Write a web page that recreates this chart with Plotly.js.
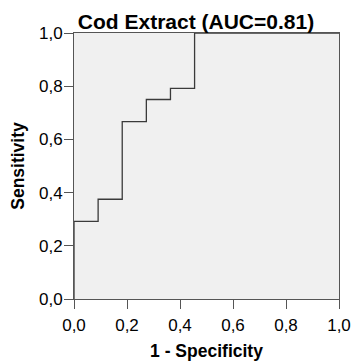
<!DOCTYPE html>
<html>
<head>
<meta charset="utf-8">
<script src="https://cdn.plot.ly/plotly-3.0.1.min.js"></script>
<style>html,body{margin:0;padding:0;background:#fff;}#chart{width:354px;height:361px;}</style>
</head>
<body>
<div id="chart"></div>
<script>
var chartTitle = "Cod Extract (AUC=0.81)";
var fpr = [0, 0, 0.091, 0.182, 0.273, 0.364, 0.455, 1];
var tpr = [0, 0.292, 0.375, 0.667, 0.75, 0.792, 1, 1];
var tickVals = [0, 0.2, 0.4, 0.6, 0.8, 1.0];
var tickText = ["0,0", "0,2", "0,4", "0,6", "0,8", "1,0"];

var FONT = 'Liberation Sans, Arial, sans-serif';
var trace = {
  x: fpr, y: tpr, type: 'scatter', mode: 'lines',
  line: {shape: 'hv', color: '#3a3a3a', width: 1.3},
  hoverinfo: 'skip'
};
var axisBase = {
  range: [0, 1], tickvals: tickVals, ticktext: tickText,
  ticks: 'outside', ticklen: 9, tickcolor: '#555', tickwidth: 1,
  showline: true, linecolor: '#555', linewidth: 1, mirror: true,
  showgrid: false, zeroline: false, fixedrange: true,
  tickfont: {family: FONT, size: 17, color: '#000'}
};
var layout = {
  width: 354, height: 361,
  margin: {l: 74, r: 15, t: 33, b: 62},
  paper_bgcolor: '#fff', plot_bgcolor: '#f0f0f0',
  showlegend: false,
  title: {text: '<b>' + chartTitle + '</b>', x: 196/354, xref: 'container', xanchor: 'center', y: 1 - 22/361, yref: 'container', yanchor: 'middle',
    font: {family: FONT, size: 21, color: '#000'}},
  xaxis: Object.assign({}, axisBase, {ticklabelstandoff: 2, title: {text: '<b>1 - Specificity</b>', standoff: 10, font: {family: FONT, size: 17.5, color: '#000'}}}),
  yaxis: Object.assign({}, axisBase, {ticklabelstandoff: -2, title: {text: '<b>Sensitivity</b>', standoff: 9, font: {family: FONT, size: 17.5, color: '#000'}}})
};
Plotly.newPlot('chart', [trace], layout, {displayModeBar: false, staticPlot: true});
</script>
</body>
</html>
